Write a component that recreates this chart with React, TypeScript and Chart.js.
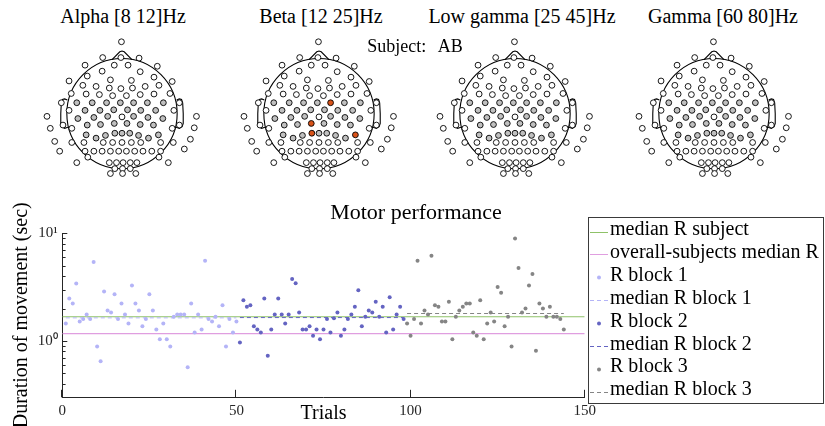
import React, { useEffect, useRef } from 'react';
import { Chart, registerables } from 'chart.js';

Chart.register(...registerables);

// ---------------- Data: motor performance ----------------
const block1FirstTrial = 1;
const block2FirstTrial = 51;
const block3FirstTrial = 99;

const block1Durations = [
  1.45, 2.48, 2.23, 3.41, 1.52, 1.6, 1.76, 1.6, 5.41, 0.89,
  0.65, 2.88, 1.92, 1.84, 2.72, 1.6, 2.23, 1.76, 1.45, 3.27,
  2.23, 1.92, 1.37, 1.6, 2.72, 1.92, 1.28, 1.04, 1.45, 1.04,
  0.89, 1.68, 1.76, 1.76, 1.76, 0.57, 2.23, 1.2, 1.76, 1.28,
  5.56, 1.6, 1.52, 1.68, 1.37, 2.15, 0.89, 1.6, 1.2, 1.52,
];
const block2Durations = [
  0.97, 2.39, 2.08, 2.15, 1.37, 1.28, 1.2, 2.48, 0.73, 1.28,
  1.76, 2.48, 1.76, 1.45, 1.76, 3.77, 3.43, 1.84, 1.28, 1.28,
  1.37, 1.12, 1.28, 1.04, 1.28, 1.6, 1.2, 1.63, 1.84, 1.12,
  1.28, 1.6, 1.76, 2.08, 2.96, 1.37, 1.68, 1.92, 1.84, 2.31,
  1.68, 2.08, 1.2, 2.55, 1.28, 1.76, 2.08, 1.6,
];
const block3Durations = [
  1.45, 1.12, 1.6, 5.56, 1.45, 1.92, 1.76, 6.18, 2.15, 2.08,
  1.52, 1.52, 2.31, 1.04, 1.68, 1.92, 2.08, 2.23, 2.23, 1.2,
  1.12, 2.39, 1.04, 1.45, 1.84, 1.52, 3.18, 2.8, 1.37, 1.68,
  0.89, 8.93, 4.76, 1.84, 2.0, 3.27, 4.19, 0.81, 2.23, 2.0,
  1.68, 2.08, 1.68, 1.68, 1.6, 1.28,
];
const medianSubject = 1.68;
const medianOverall = 1.17;
const medianBlock1 = 1.64;
const medianBlock2 = 1.65;
const medianBlock3 = 1.8;
const blockRanges = [
  [1, 50],
  [51, 98],
  [99, 144],
];
const xRange = [0, 150];
const xTickValues = [0, 50, 100, 150];
const yRange = [0.3, 10];
const yTickValues = [0.3, 0.4, 0.5, 0.6, 0.7, 0.8, 0.9, 1, 2, 3, 4, 5, 6, 7, 8, 9, 10];
const yTickLabels: Record<string, string> = { '1': '10\u2070', '10': '10\u00b9' };
const legendLabels = [
  'median R subject',
  'overall-subjects median R',
  'R block 1',
  'median R block 1',
  'R block 2',
  'median R block 2',
  'R block 3',
  'median R block 3',
];
const chartTitle = 'Motor performance';
const xTitle = 'Trials';
const yTitle = 'Duration of movement (sec)';

// ---------------- Data: electrode montage (head radius = 100) ----------------
const electrodePositions: [number, number][] = [
  [-1, 132], [-35, 103], [-2, 103], [31, 102], [-67, 89], [-14, 89], [11, 89], [64, 87],
  [-36, 78], [33, 77], [-63, 69], [58, 67], [-96, 60], [-21, 62], [17, 61], [91, 59],
  [-71, 52], [-47, 50], [-23, 47], [-2, 46], [19, 47], [42, 50], [67, 52],
  [-92, 37], [-65, 36], [-41, 35], [-17, 33], [8, 33], [33, 35], [58, 36], [87, 37],
  [-110, 20], [-82, 20], [-54, 20], [-28, 20], [-3, 20], [21, 20], [46, 20], [75, 20], [104, 20],
  [-96, 6], [-67, 6], [-40, 6], [-15, 7], [10, 7], [34, 6], [61, 6], [94, 6],
  [-136, -5], [-80, -9], [-51, -7], [-26, -5], [0, -6], [21, -5], [47, -7], [74, -9], [135, -5],
  [-130, -27], [-107, -21], [-91, -27], [-63, -21], [-39, -20], [-14, -18], [9, -18], [33, -20],
  [57, -21], [91, -27], [104, -21], [131, -26],
  [-65, -39], [-47, -45], [-30, -40], [-13, -36], [0, -36], [14, -36], [30, -40], [48, -45], [66, -39],
  [-122, -51], [-91, -53], [-69, -53], [-34, -53], [-17, -53], [0, -53], [17, -53], [34, -53],
  [70, -53], [93, -53], [124, -47],
  [-113, -69], [-67, -69], [-51, -69], [-36, -69], [-21, -69], [-6, -69], [8, -69], [23, -69],
  [38, -69], [54, -69], [70, -69], [113, -65],
  [-62, -80], [67, -80],
  [-82, -90], [-23, -90], [-10, -90], [2, -90], [15, -90], [27, -90], [84, -90],
  [-13, -101], [1, -101], [15, -101],
  [-21, -110], [1, -110], [25, -110],
];
const commonSignificant = [
  32, 33, 34, 35, 36, 37, 38, 41, 42, 43, 44, 45, 46, 49, 50, 51, 53, 54, 55,
  60, 61, 62, 63, 64, 65, 69, 70, 71, 72, 73, 74, 75, 76, 77,
];
const alphaSignificant = commonSignificant;
const betaSignificant = commonSignificant;
const lowGammaSignificant = commonSignificant;
const gammaSignificant = commonSignificant;
const betaPeak = [36, 62, 72, 77];
const bandTitles = ['Alpha [8 12]Hz', 'Beta [12 25]Hz', 'Low gamma [25 45]Hz', 'Gamma [60 80]Hz'];
const subjectLabel = 'Subject: AB';

// ---------------- Styles ----------------
const FONT = '"Liberation Serif", "Times New Roman", serif';
const AXIS_COLOR = '#262626';
const GREEN = '#8fc268';
const PINK = '#e09ee0';
const BLOCK1 = '#b4b4f7';
const BLOCK2 = '#6464c2';
const BLOCK3 = '#858585';
const GRAY_FILL = '#c0c0c0';
const ORANGE = '#d95319';

const PX_PER_UNIT = 0.58;
const HEAD_W = 200;
const HEAD_H = 160;
const HEAD_TOP = 28;
const HEAD_CY = 86;
const headCenters = [122, 319, 515, 714];
const titleCenters = [123, 321, 522, 723];

const headOutlinePlugin = {
  id: 'headOutline',
  beforeDatasetsDraw(chart: any) {
    const { ctx } = chart;
    const xs = chart.scales.x;
    const ys = chart.scales.y;
    const px = (v: number) => xs.getPixelForValue(v);
    const py = (v: number) => ys.getPixelForValue(v);
    const r = px(100) - px(0);
    ctx.save();
    ctx.strokeStyle = '#000';
    ctx.lineWidth = 1.1;
    ctx.beginPath();
    ctx.arc(px(0), py(0), r, 0, Math.PI * 2);
    ctx.stroke();
    // nose
    const noseX = [18, 4, 0, -4, -18];
    const noseY = [99.1, 113.5, 115, 113.5, 99.1];
    ctx.beginPath();
    noseX.forEach((nx, i) => (i === 0 ? ctx.moveTo(px(nx), py(noseY[i])) : ctx.lineTo(px(nx), py(noseY[i]))));
    ctx.stroke();
    // ears
    const earX = [99, 104, 108, 110, 111, 111, 109, 104, 98];
    const earY = [25, 27, 26, 20, 0, -18, -24, -27, -25];
    [1, -1].forEach((side) => {
      ctx.beginPath();
      earX.forEach((ex, i) => (i === 0 ? ctx.moveTo(px(side * ex), py(earY[i])) : ctx.lineTo(px(side * ex), py(earY[i]))));
      ctx.stroke();
    });
    ctx.restore();
  },
};

function HeadMap({ index, significant, peak }: { index: number; significant: number[]; peak: number[] }) {
  const ref = useRef<HTMLCanvasElement>(null);
  useEffect(() => {
    const sig = new Set(significant);
    const pk = new Set(peak);
    const fills = electrodePositions.map((_, i) => (pk.has(i) ? ORANGE : sig.has(i) ? GRAY_FILL : '#ffffff'));
    const halfW = HEAD_W / 2 / PX_PER_UNIT;
    const chart = new Chart(ref.current as HTMLCanvasElement, {
      type: 'scatter',
      data: {
        datasets: [
          {
            data: electrodePositions.map(([x, y]) => ({ x, y })),
            pointBackgroundColor: fills,
            pointBorderColor: '#000',
            pointBorderWidth: 0.9,
            pointRadius: 2.9,
          } as any,
        ],
      },
      options: {
        animation: false,
        responsive: false,
        events: [],
        layout: { padding: 0 },
        plugins: { legend: { display: false }, tooltip: { enabled: false } },
        scales: {
          x: { display: false, min: -halfW, max: halfW },
          y: { display: false, min: -(HEAD_H - HEAD_CY) / PX_PER_UNIT, max: HEAD_CY / PX_PER_UNIT },
        },
      } as any,
      plugins: [headOutlinePlugin],
    });
    return () => chart.destroy();
  }, []);
  return (
    <canvas
      ref={ref}
      width={HEAD_W}
      height={HEAD_H}
      style={{ position: 'absolute', left: headCenters[index] - HEAD_W / 2, top: HEAD_TOP, display: 'block' }}
    />
  );
}

const mainDecorPlugin = {
  id: 'mainDecor',
  afterDraw(chart: any) {
    const { ctx, chartArea } = chart;
    const xs = chart.scales.x;
    const ys = chart.scales.y;
    ctx.save();
    // inward ticks
    ctx.strokeStyle = AXIS_COLOR;
    ctx.lineWidth = 1;
    ys.ticks.forEach((t: any) => {
      const y = Math.round(ys.getPixelForValue(t.value)) + 0.5;
      const lg = Math.log10(t.value);
      const major = Math.abs(lg - Math.round(lg)) < 1e-9;
      ctx.beginPath();
      ctx.moveTo(chartArea.left, y);
      ctx.lineTo(chartArea.left + (major ? 5 : 3.3), y);
      ctx.stroke();
    });
    xs.ticks.forEach((t: any) => {
      const x = Math.round(xs.getPixelForValue(t.value)) - 0.5;
      ctx.beginPath();
      ctx.moveTo(x, chartArea.bottom);
      ctx.lineTo(x, chartArea.bottom - 7.5);
      ctx.stroke();
    });
    // title
    ctx.fillStyle = '#000';
    ctx.font = `22px ${FONT}`;
    ctx.textAlign = 'center';
    ctx.textBaseline = 'middle';
    ctx.fillText(chartTitle, 416, 13.5);
    // legend box
    const L = 588.5, T = 17.5, R = 823.5, B = 203.5;
    ctx.fillStyle = '#ffffff';
    ctx.fillRect(L, T, R - L, B - T);
    ctx.strokeStyle = '#3a3a3a';
    ctx.strokeRect(L, T, R - L, B - T);
    ctx.font = `20px ${FONT}`;
    ctx.textAlign = 'left';
    chart.data.datasets.forEach((ds: any, i: number) => {
      const y = 30 + i * 22.86;
      const ly = Math.round(y + 1.5) + 0.5;
      if (ds.showLine) {
        ctx.strokeStyle = ds.borderColor;
        ctx.setLineDash(ds.borderDash || []);
        ctx.beginPath();
        ctx.moveTo(590, ly);
        ctx.lineTo(608, ly);
        ctx.stroke();
        ctx.setLineDash([]);
      } else {
        ctx.fillStyle = ds.pointBackgroundColor;
        ctx.beginPath();
        ctx.arc(599, ly, 2, 0, Math.PI * 2);
        ctx.fill();
      }
      ctx.fillStyle = '#000';
      ctx.fillText(ds.label, 610, y, 212);
    });
    ctx.restore();
  },
};

function MotorChart() {
  const ref = useRef<HTMLCanvasElement>(null);
  useEffect(() => {
    const trials = (first: number, values: number[]) => values.map((v, i) => ({ x: first + i, y: v }));
    const hline = (from: number, to: number, v: number) => [
      { x: from, y: v },
      { x: to, y: v },
    ];
    const lineDs = (label: string, data: any, color: string, dash: number[], order: number, width = 1) => ({
      label,
      data,
      showLine: true,
      borderColor: color,
      borderWidth: width,
      borderDash: dash,
      pointRadius: 0,
      order,
    });
    const dotDs = (label: string, data: any, color: string, order: number) => ({
      label,
      data,
      showLine: false,
      pointBackgroundColor: color,
      pointBorderWidth: 0,
      pointRadius: 2,
      order,
    });
    const chart = new Chart(ref.current as HTMLCanvasElement, {
      type: 'scatter',
      data: {
        datasets: [
          lineDs(legendLabels[0], hline(xRange[0], xRange[1], medianSubject), GREEN, [], 8, 1.2),
          lineDs(legendLabels[1], hline(xRange[0], xRange[1], medianOverall), PINK, [], 7, 1.2),
          dotDs(legendLabels[2], trials(block1FirstTrial, block1Durations), BLOCK1, 6),
          lineDs(legendLabels[3], hline(blockRanges[0][0], blockRanges[0][1], medianBlock1), BLOCK1, [4, 3], 5),
          dotDs(legendLabels[4], trials(block2FirstTrial, block2Durations), BLOCK2, 4),
          lineDs(legendLabels[5], hline(blockRanges[1][0], blockRanges[1][1], medianBlock2), BLOCK2, [4, 3], 3),
          dotDs(legendLabels[6], trials(block3FirstTrial, block3Durations), BLOCK3, 2),
          lineDs(legendLabels[7], hline(blockRanges[2][0], blockRanges[2][1], medianBlock3), BLOCK3, [4, 3], 1),
        ] as any,
      },
      options: {
        animation: false,
        responsive: false,
        events: [],
        layout: { padding: { left: 4, right: 240.3, top: 33.3, bottom: 0 } },
        plugins: { legend: { display: false }, tooltip: { enabled: false } },
        scales: {
          x: {
            type: 'linear',
            min: xRange[0],
            max: xRange[1],
            grid: { display: false, drawTicks: false, tickLength: 0 },
            border: { display: true, color: AXIS_COLOR, width: 1 },
            ticks: { color: AXIS_COLOR, font: { family: FONT, size: 15 }, padding: 5, autoSkip: false, maxRotation: 0 },
            afterBuildTicks: (s: any) => {
              s.ticks = xTickValues.map((v) => ({ value: v }));
            },
            afterFit: (s: any) => {
              s.height = 28.7;
            },
            title: { display: true, text: xTitle, color: '#000', font: { family: FONT, size: 20 }, padding: { top: 0, bottom: 0 } },
          },
          y: {
            type: 'logarithmic',
            min: yRange[0],
            max: yRange[1],
            grid: { display: false, drawTicks: false, tickLength: 0 },
            border: { display: true, color: AXIS_COLOR, width: 1 },
            ticks: {
              color: AXIS_COLOR,
              font: { family: FONT, size: 15 },
              padding: 4.5,
              autoSkip: false,
              callback: (v: any) => yTickLabels[String(v)] ?? '',
            },
            afterBuildTicks: (s: any) => {
              s.ticks = yTickValues.map((v) => ({ value: v }));
            },
            afterFit: (s: any) => {
              s.width = 58.3;
            },
            title: { display: true, text: yTitle, color: '#000', font: { family: FONT, size: 20 }, padding: { top: 6, bottom: 0 } },
          },
        },
      } as any,
      plugins: [mainDecorPlugin],
    });
    return () => chart.destroy();
  }, []);
  return <canvas ref={ref} width={825} height={226} style={{ position: 'absolute', left: 0, top: 200, display: 'block' }} />;
}

export default function App() {
  const bandSignificant = [alphaSignificant, betaSignificant, lowGammaSignificant, gammaSignificant];
  const bandPeaks = [[], betaPeak, [], []];
  return (
    <div style={{ position: 'absolute', left: 0, top: 0, width: 825, height: 426, background: '#fff', overflow: 'hidden' }}>
      {bandTitles.map((t, i) => (
        <div
          key={t}
          style={{
            position: 'absolute',
            left: titleCenters[i] - 150,
            width: 300,
            top: 6,
            textAlign: 'center',
            fontFamily: FONT,
            fontSize: 20,
            lineHeight: '20px',
            color: '#000',
            whiteSpace: 'nowrap',
          }}
        >
          {t}
        </div>
      ))}
      {bandSignificant.map((sig, i) => (
        <HeadMap key={i} index={i} significant={sig} peak={bandPeaks[i]} />
      ))}
      <div
        style={{
          position: 'absolute',
          left: 415 - 100,
          width: 200,
          top: 37,
          textAlign: 'center',
          fontFamily: FONT,
          fontSize: 18,
          lineHeight: '18px',
          wordSpacing: 8,
          color: '#000',
          whiteSpace: 'nowrap',
          zIndex: 2,
        }}
      >
        {subjectLabel}
      </div>
      <MotorChart />
    </div>
  );
}
